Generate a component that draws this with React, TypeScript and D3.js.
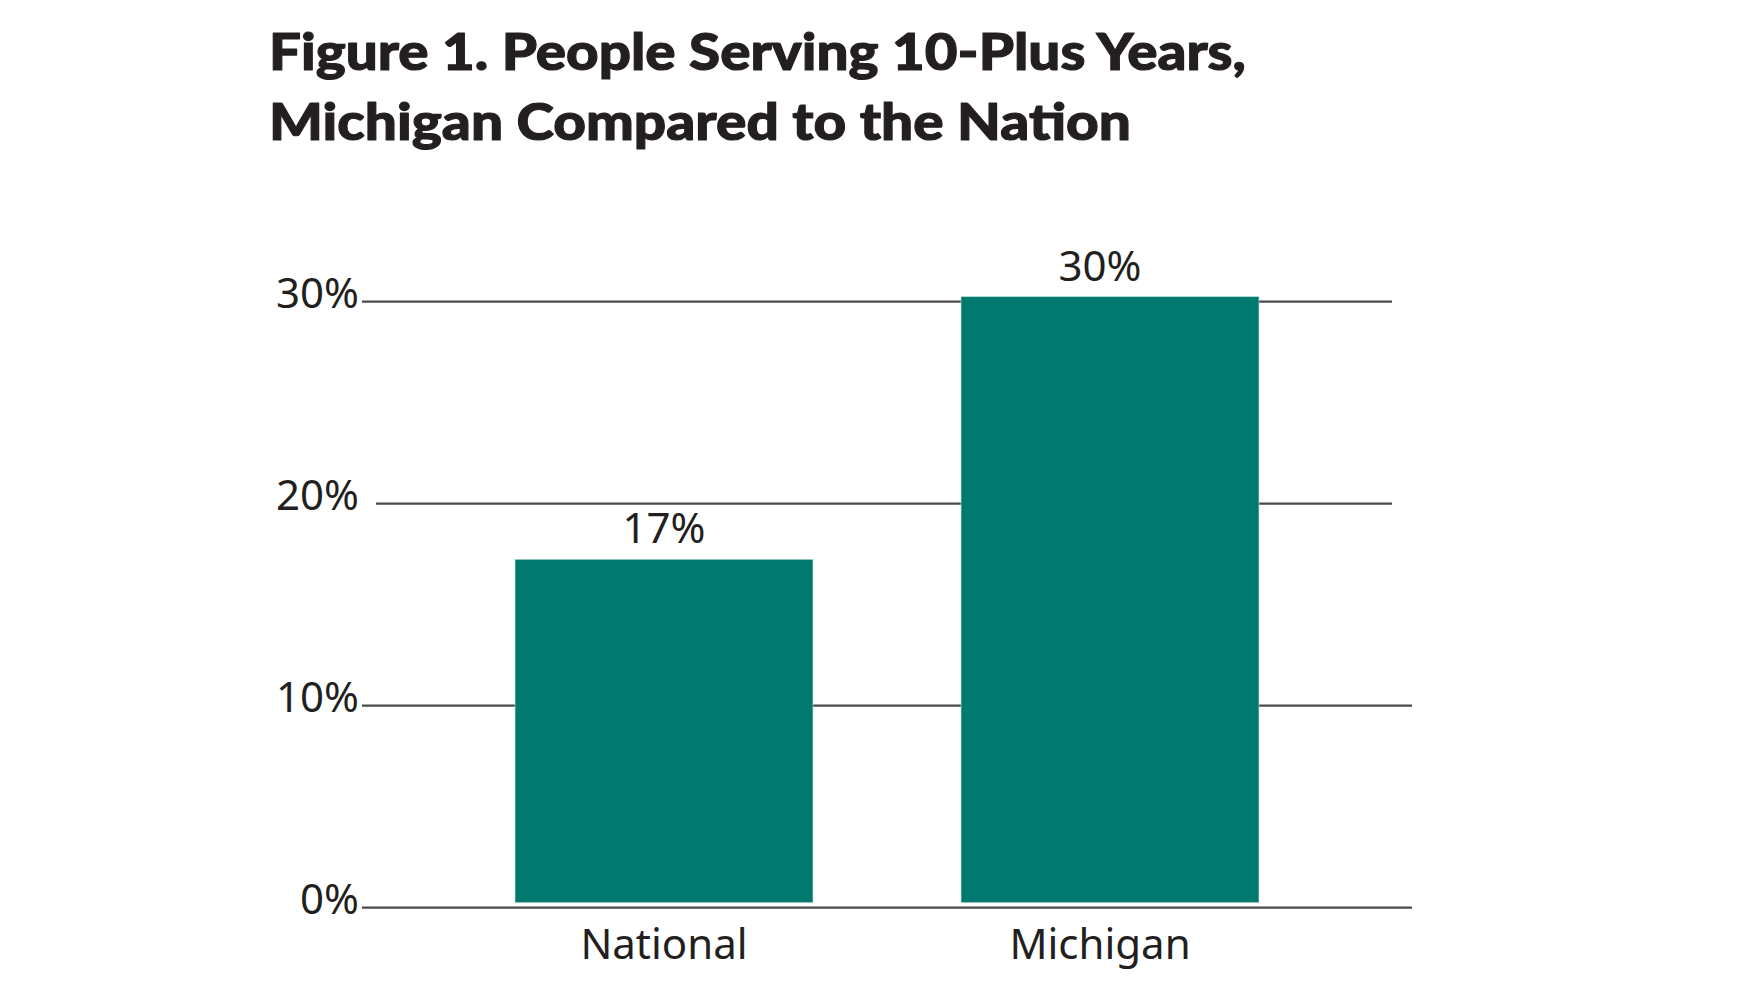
import React from "react";
import * as d3 from "d3";

const categories = ["National", "Michigan"];
const values = [17, 30];
const valueLabels = ["17%", "30%"];
const yTicks = [0, 10, 20, 30];
const yTickLabels = ["0%", "10%", "20%", "30%"];
const titleLines = [
  "Figure 1. People Serving 10-Plus Years,",
  "Michigan Compared to the Nation",
];

const W = 1759;
const H = 989;
const BAR_COLOR = "#00796F";
const TEXT_COLOR = "#231F20";
const GRID_COLOR = "#4a4a4a";
const LABEL_FONT = "'Noto Sans', 'Open Sans', sans-serif";
const TITLE_FONT = "Lato, 'Noto Sans', sans-serif";

export default function App() {
  const y = d3.scaleLinear().domain([0, 30]).range([907.7, 301.7]);
  const barLift = 5;
  const x = d3
    .scaleBand<string>()
    .domain(categories)
    .range([441, 1333])
    .paddingInner(0.332)
    .paddingOuter(0.166);

  const gridX1 = 362;
  const gridX2 = 1404;

  return (
    <svg
      width={W}
      height={H}
      viewBox={`0 0 ${W} ${H}`}
      style={{ position: "absolute", left: 0, top: 0, display: "block", background: "#fff" }}
    >
      <rect x={0} y={0} width={W} height={H} fill="#fff" />
      {/* Title */}
      {titleLines.map((t, i) => (
        <text
          key={t}
          x={269}
          y={70 + i * 70}
          fontFamily={TITLE_FONT}
          fontWeight={900}
          fontSize={52}
          fill={TEXT_COLOR}
          stroke={TEXT_COLOR}
          strokeWidth={1.1}
          strokeLinejoin="round"
          textLength={i === 0 ? 977 : 862}
          lengthAdjust="spacingAndGlyphs"
        >
          {t}
        </text>
      ))}

      {/* Gridlines and tick labels */}
      {yTicks.map((t, i) => (
        <g key={t}>
          <line
            x1={t === 20 ? gridX1 + 14 : gridX1}
            x2={t >= 20 ? gridX2 - 12 : gridX2 + 8}
            y1={y(t)}
            y2={y(t)}
            stroke={GRID_COLOR}
            strokeWidth={2.2}
          />
          <text
            x={359}
            y={y(t) + 6.5}
            textAnchor="end"
            fontFamily={LABEL_FONT}
            fontSize={42}
            fill={TEXT_COLOR}
          >
            {yTickLabels[i]}
          </text>
        </g>
      ))}

      {/* Bars */}
      {categories.map((c, i) => (
        <g key={c}>
          <rect
            x={x(c)!}
            y={y(values[i]) - barLift}
            width={x.bandwidth()}
            height={y(0) - y(values[i])}
            fill={BAR_COLOR}
            stroke="#b9ddd9"
            strokeWidth={0.6}
          />
          <text
            x={x(c)! + x.bandwidth() / 2 - (i === 1 ? 10 : 0)}
            y={y(values[i]) - barLift - 16}
            textAnchor="middle"
            fontFamily={LABEL_FONT}
            fontSize={42}
            fill={TEXT_COLOR}
          >
            {valueLabels[i]}
          </text>
          <text
            x={x(c)! + x.bandwidth() / 2 - (i === 1 ? 10 : 0)}
            y={959}
            textAnchor="middle"
            fontFamily={LABEL_FONT}
            fontSize={42}
            fill={TEXT_COLOR}
          >
            {c}
          </text>
        </g>
      ))}
    </svg>
  );
}
